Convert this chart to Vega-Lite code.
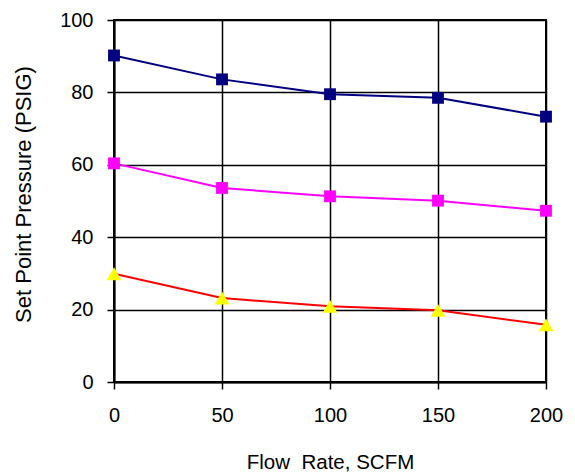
{
  "$schema": "https://vega.github.io/schema/vega-lite/v6.json",
  "autosize": {"type": "none"},
  "padding": {"left": 114, "top": 20, "right": 29, "bottom": 94},
  "width": 432,
  "height": 362,
  "background": "white",
  "config": {
    "view": {"stroke": "black", "strokeWidth": 2},
    "font": "Liberation Sans"
  },
  "data": {
    "values": [
      {"flow": 0, "pressure": 90.2, "series": "A"},
      {"flow": 50, "pressure": 83.6, "series": "A"},
      {"flow": 100, "pressure": 79.5, "series": "A"},
      {"flow": 150, "pressure": 78.5, "series": "A"},
      {"flow": 200, "pressure": 73.3, "series": "A"},
      {"flow": 0, "pressure": 60.4, "series": "B"},
      {"flow": 50, "pressure": 53.6, "series": "B"},
      {"flow": 100, "pressure": 51.3, "series": "B"},
      {"flow": 150, "pressure": 50.1, "series": "B"},
      {"flow": 200, "pressure": 47.3, "series": "B"},
      {"flow": 0, "pressure": 29.9, "series": "C"},
      {"flow": 50, "pressure": 23.2, "series": "C"},
      {"flow": 100, "pressure": 20.9, "series": "C"},
      {"flow": 150, "pressure": 19.8, "series": "C"},
      {"flow": 200, "pressure": 15.8, "series": "C"}
    ]
  },
  "encoding": {
    "x": {
      "field": "flow", "type": "quantitative",
      "scale": {"domain": [0, 200], "nice": false},
      "axis": {
        "values": [0, 50, 100, 150, 200],
        "title": "Flow\u00a0 Rate, SCFM",
        "grid": true, "gridColor": "black", "gridOpacity": 1, "gridWidth": 1.5,
        "domainColor": "black", "domainWidth": 2,
        "tickColor": "black", "tickSize": 7, "tickWidth": 1.5,
        "labelFontSize": 20, "labelColor": "black", "labelPadding": 16,
        "labelFlush": false,
        "labelFont": "Liberation Sans",
        "titleFont": "Liberation Sans", "titleFontSize": 20.5, "titleFontWeight": "normal",
        "titleColor": "black", "titleY": 80, "titleBaseline": "middle"
      }
    },
    "y": {
      "field": "pressure", "type": "quantitative",
      "scale": {"domain": [0, 100], "nice": false},
      "axis": {
        "values": [0, 20, 40, 60, 80, 100],
        "title": "Set Point Pressure (PSIG)",
        "grid": true, "gridColor": "black", "gridOpacity": 1, "gridWidth": 1.5,
        "domainColor": "black", "domainWidth": 2,
        "tickColor": "black", "tickSize": 7, "tickWidth": 1.5,
        "labelFontSize": 20, "labelColor": "black", "labelPadding": 14,
        "labelFlush": false,
        "labelFont": "Liberation Sans",
        "titleFont": "Liberation Sans", "titleFontSize": 22, "titleFontWeight": "normal",
        "titleColor": "black", "titleX": -91, "titleY": 174,
        "titleBaseline": "middle", "titleAlign": "center", "titleAngle": -90
      }
    }
  },
  "layer": [
    {
      "mark": {"type": "line", "strokeWidth": 2},
      "encoding": {
        "stroke": {
          "field": "series", "type": "nominal",
          "scale": {"domain": ["A", "B", "C"], "range": ["#000080", "#FF00FF", "#FF0000"]},
          "legend": null
        }
      }
    },
    {
      "transform": [{"filter": "datum.series !== 'C'"}],
      "mark": {"type": "point", "shape": "square", "filled": true, "opacity": 1, "strokeWidth": 0, "size": 140},
      "encoding": {
        "fill": {
          "field": "series", "type": "nominal",
          "scale": {"domain": ["A", "B"], "range": ["#000080", "#FF00FF"]},
          "legend": null
        }
      }
    },
    {
      "transform": [{"filter": "datum.series === 'C'"}],
      "mark": {"type": "point", "shape": "triangle-up", "filled": true, "opacity": 1, "strokeWidth": 0, "size": 220, "fill": "#FFFF00", "color": "#FFFF00"},
      "encoding": {}
    }
  ],
  "resolve": {"scale": {"fill": "independent"}}
}
